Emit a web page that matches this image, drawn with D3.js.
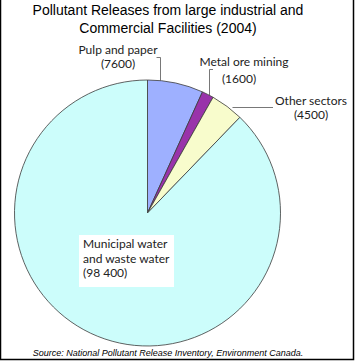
<!DOCTYPE html>
<html><head><meta charset="utf-8">
<script src="https://cdn.jsdelivr.net/npm/d3@7"></script>
<style>body{margin:0;background:#fff}svg{display:block}</style>
</head><body>
<script>
const categories = ["Pulp and paper", "Metal ore mining", "Other sectors", "Municipal water and waste water"];
const values = [7600, 1600, 4500, 98400];
const valueLabels = ["(7600)", "(1600)", "(4500)", "(98 400)"];
const colors = ["#9eb0ff", "#9933aa", "#f8fccc", "#ccfdfb"];
const titleLines = ["Pollutant Releases from large industrial and", "Commercial Facilities (2004)"];
const source = "Source: National Pollutant Release Inventory, Environment Canada.";

const W = 355, H = 361;
const svg = d3.select("body").append("svg").attr("width", W).attr("height", H);
svg.append("rect").attr("width", W).attr("height", H).attr("fill", "#fff");

const cx = 147.5, cy = 213, r = 133;
const pie = d3.pie().sort(null).value(d => d)(values);
const arc = d3.arc().innerRadius(0).outerRadius(r);
const g = svg.append("g").attr("transform", `translate(${cx},${cy})`);
g.selectAll("path").data(pie).join("path")
  .attr("d", arc).attr("fill", (d, i) => colors[i])
  .attr("stroke", "#3a3a3a").attr("stroke-width", 0.8);

// title
svg.append("g").selectAll("text").data(titleLines).join("text")
  .attr("x", 168).attr("y", (d, i) => 15 + i * 18)
  .attr("text-anchor", "middle")
  .style("font", "14px 'Liberation Sans', Arial, sans-serif").attr("fill", "#000")
  .text(d => d);

const lf = "12px Lato, 'Open Sans', sans-serif";
// leader lines
const lead = svg.append("g").attr("fill", "none").attr("stroke", "#555").attr("stroke-width", 0.8);
const arcY = x => cy - Math.sqrt(r * r - (x - cx) * (x - cx));
const arcX = y => cx + Math.sqrt(r * r - (y - cy) * (y - cy));
lead.append("path").attr("d", `M156.5,57.5H160.5V${arcY(160.5)}`);
lead.append("path").attr("d", `M213,69.5H209.5V${arcY(209.5)}`);
lead.append("path").attr("d", `M273,107.5H${arcX(107.5) + 4}`);

const labelPos = [[118, 54], [244, 66], [311, 105]];
labelPos.forEach((p, i) => {
  const t = svg.append("text").attr("text-anchor", "middle").style("font", lf).attr("fill", "#222");
  t.append("tspan").attr("x", p[0]).attr("y", p[1]).text(categories[i]);
  t.append("tspan").attr("x", i === 1 ? 239 : p[0]).attr("y", p[1] + (i === 1 ? 17 : 14)).text(valueLabels[i]);
});

// municipal label box
svg.append("rect").attr("x", 79).attr("y", 235).attr("width", 95).attr("height", 52).attr("fill", "#fff");
const mt = svg.append("text").style("font", lf).attr("fill", "#222");
["Municipal water", "and waste water", valueLabels[3]].forEach((s, k) => {
  mt.append("tspan").attr("x", 83).attr("y", 248 + k * 14.5).text(s);
});

// source
svg.append("text").attr("x", 168).attr("y", 356).attr("text-anchor", "middle")
  .style("font", "italic 9px 'Liberation Sans', Arial, sans-serif").attr("fill", "#000").text(source);

// frame
svg.append("path").attr("d", `M0.5,0V${H-1.5}H${W-1.5}V0`).attr("fill", "none").attr("stroke", "#000").attr("stroke-width", 1.5);
</script>
</body></html>
